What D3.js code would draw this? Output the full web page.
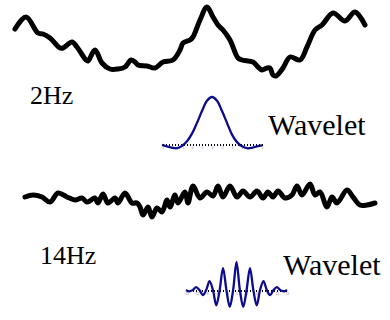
<!DOCTYPE html>
<html>
<head>
<meta charset="utf-8">
<script src="https://cdn.jsdelivr.net/npm/d3@7"></script>
<style>
  body { margin: 0; background: #fff; }
  svg { display: block; }
</style>
</head>
<body>
<svg id="chart" width="390" height="320"></svg>
<script>
// slow (2Hz) trace, sample time vs amplitude
var slowT = [0, 11, 23, 28, 35, 45, 48, 57, 62, 71, 73, 80, 87, 95, 103, 110, 116, 120, 123, 132, 140, 148, 158, 165, 168, 175, 178, 185, 192, 198, 203, 208, 215, 223, 227, 238, 243, 247, 252, 255, 258, 261, 268, 275, 285, 292, 300, 307, 318, 330, 340, 350]
var slowA = [11, 23, 7, 6, 2, -8, -8, -2, -7, -20, -21, -10, -23, -29, -29, -27, -20, -22, -25, -26, -28, -22, -20, -10, -3, 0, 3, 20, 33, 23, 15, 10, 0, -18, -20, -22, -27, -30, -28, -28, -35, -36, -28, -17, -20, -7, 10, 15, 27, 19, 28, 15]

// fast (14Hz) trace
var fastT = [0, 8, 17, 25, 33, 42, 50, 57, 62, 70, 73, 78, 83, 90, 93, 100, 107, 112, 115, 118, 123, 127, 132, 137, 142, 145, 150, 153, 160, 163, 168, 175, 182, 188, 193, 198, 205, 212, 218, 225, 232, 238, 243, 248, 253, 260, 267, 272, 277, 285, 290, 295, 302, 307, 312, 322, 328, 335, 342, 350]
var fastA = [0, 2, 0, -5, 4, 0, -3, -1, -5, -1, -6, 3, -6, -1, -6, 4, -6, -6, -10, -18, -10, -20, -11, -15, -3, -10, 2, -6, 5, -6, 11, -1, 5, 1, 11, 0, 11, 0, 6, 0, 6, -1, 5, 0, 6, -1, 2, 11, 2, 13, 2, 5, -10, 0, -6, 7, 0, -8, -8, -6]

// wavelet shapes
var wave1T = [-1, -0.9, -0.8, -0.7, -0.6, -0.5, -0.4, -0.3, -0.2, -0.1, 0, 0.1, 0.2, 0.3, 0.4, 0.5, 0.6, 0.7, 0.8, 0.9, 1]
var wave1A = [-0.02, -0.05, -0.08, -0.09, -0.04, 0.06, 0.22, 0.45, 0.7, 0.92, 1, 0.92, 0.7, 0.45, 0.2, 0.04, -0.05, -0.09, -0.08, -0.05, -0.03]
var wave2T = d3.range(-15, 16)
var wave2A = [0, -0.05, 0, 0.1, 0, -0.18, 0, 0.32, 0, -0.55, 0, 0.78, 0, -0.6, 0, 1, 0, -0.6, 0, 0.78, 0, -0.55, 0, 0.32, 0, -0.18, 0, 0.1, 0, -0.05, 0]
var waveTicks = [-1, -0.8, -0.6, -0.4, -0.2, 0, 0.2, 0.4, 0.6, 0.8, 1]

var labels = ['2Hz', '14Hz']

var svg = d3.select('#chart')

function drawTrace (tVals, aVals, xRange, yRange, yDomain) {
  var x = d3.scaleLinear().domain([0, 350]).range(xRange)
  var y = d3.scaleLinear().domain(yDomain).range(yRange)
  var line = d3.line()
    .x(function (d, i) { return x(tVals[i]) })
    .y(function (d) { return y(d) })
    .curve(d3.curveCatmullRom)
  svg.append('path')
    .datum(aVals)
    .attr('d', line)
    .attr('fill', 'none')
    .attr('stroke', '#000')
    .attr('stroke-width', 5)
    .attr('stroke-linejoin', 'round')
    .attr('stroke-linecap', 'round')
}

function drawWavelet (tVals, aVals, xDomain, xRange, y0, y1) {
  var x = d3.scaleLinear().domain(xDomain).range(xRange)
  var y = d3.scaleLinear().domain([0, 1]).range([y0, y1])
  var g = svg.append('g')

  // dotted zero axis with tiny tick labels
  var tickVals = waveTicks.map(function (v) { return xDomain[0] + (v + 1) / 2 * (xDomain[1] - xDomain[0]) })
  var axis = g.append('g')
    .attr('transform', 'translate(0,' + (y0 + 0.5) + ')')
    .call(d3.axisBottom(x).tickValues(tickVals).tickSize(0).tickPadding(2).tickFormat(d3.format('.0f')))
  axis.select('.domain')
    .attr('stroke', '#000')
    .attr('stroke-width', 1.5)
    .attr('stroke-dasharray', '1.5,1.5')
    .attr('shape-rendering', 'crispEdges')
  axis.selectAll('text').attr('font-size', 3).attr('fill', '#7777aa').attr('font-family', 'Liberation Sans')

  var line = d3.line()
    .x(function (d, i) { return x(tVals[i]) })
    .y(function (d) { return y(d) })
    .curve(d3.curveCatmullRom)
  g.append('path')
    .datum(aVals)
    .attr('d', line)
    .attr('fill', 'none')
    .attr('stroke', '#0c0c8c')
    .attr('stroke-width', 2.3)
}

drawTrace(slowT, slowA, [15, 365], [80, 0], [-40, 40])
drawTrace(fastT, fastA, [25, 375], [227, 167], [-30, 30])

drawWavelet(wave1T, wave1A, [-1, 1], [162, 262], 144, 97)
drawWavelet(wave2T, wave2A, [-15, 15], [186, 287], 290, 262)

svg.append('text').text(labels[0]).attr('x', 30).attr('y', 104)
  .attr('font-family', 'Liberation Serif').attr('font-size', 26)
svg.append('text').text(labels[1]).attr('x', 40).attr('y', 264)
  .attr('font-family', 'Liberation Serif').attr('font-size', 26)
svg.append('text').text('Wavelet').attr('x', 268).attr('y', 135)
  .attr('font-family', 'Liberation Serif').attr('font-size', 30)
svg.append('text').text('Wavelet').attr('x', 283).attr('y', 275)
  .attr('font-family', 'Liberation Serif').attr('font-size', 30)
</script>
</body>
</html>
